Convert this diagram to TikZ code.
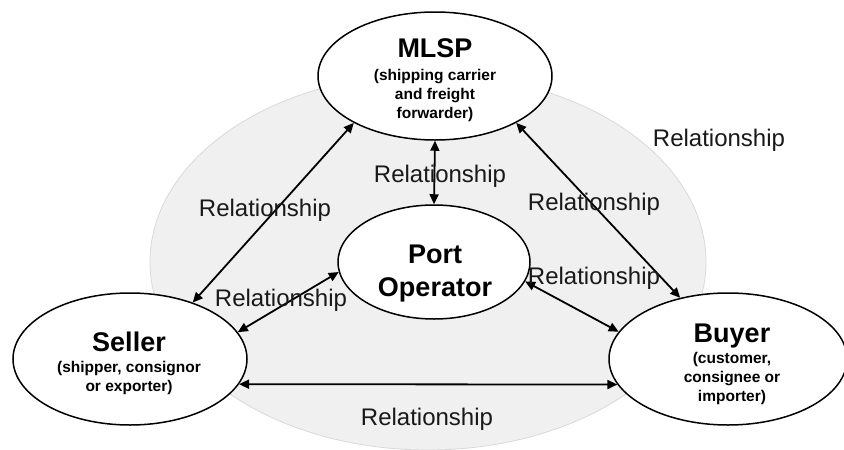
\documentclass[tikz,border=0pt]{standalone}
\usepackage{fontspec}
\setmainfont{Liberation Sans}
\usetikzlibrary{shapes.geometric,arrows.meta}
\begin{document}
\begin{tikzpicture}[x=1pt,y=-1pt,
  ell/.style={ellipse,draw=black,line width=1.5pt,fill=white,inner sep=0pt},
  rel/.style={font=\fontsize{24}{24}\selectfont,text=black!90,inner sep=0pt},
  ttl/.style={font=\bfseries\fontsize{27}{33}\selectfont,align=center,inner sep=0pt},
  subt/.style={font=\bfseries\fontsize{15.5}{19}\selectfont,align=center,inner sep=0pt},
  link/.style={{Triangle[length=10pt,width=9pt]}-{Triangle[length=10pt,width=9pt]},line width=1.8pt}
]
\useasboundingbox (0,0) rectangle (844,450);
% background
\node[ellipse,fill=black!6,draw=black!15,line width=0.8pt,minimum width=556pt,minimum height=376pt,inner sep=0pt] (bg) at (428,262) {};
% main ellipses
\node[ell,minimum width=234pt,minimum height=128pt] (mlsp) at (435,76) {};
\node[ell,minimum width=234pt,minimum height=132pt] (seller) at (130,359) {};
\node[ell,minimum width=238pt,minimum height=132pt] (buyer) at (728,359) {};
\node[ell,minimum width=192pt,minimum height=114pt] (port) at (434,262) {};
% texts in ellipses
\node[ttl] (mlspT) at (435,48) {MLSP};
\node[subt] (mlspS) at (435,95) {(shipping carrier\\and freight\\forwarder)};
\node[ttl] (sellerT) at (129,342) {Seller};
\node[subt] (sellerS) at (129,378) {(shipper, consignor\\or exporter)};
\node[ttl] (buyerT) at (732,336) {Buyer};
\node[subt] (buyerS) at (732,378) {(customer,\\consignee or\\importer)};
\node[ttl] (portT) at (435,274) {Port\\Operator};
% connectors
\draw[link] (seller.42.6) -- (mlsp.210.6);
\draw[link] (seller.14.7) -- (port.186.6);
\draw[link] (seller.-13.2) -- (buyer.193.5);
\draw[link] (mlsp.south) -- (port.north);
\draw[link] (mlsp.-30) -- (buyer.128);
\draw[link] (port.-12.3) -- (buyer.166);
% labels
\node[rel] (r1) at (719,140) {Relationship};
\node[rel] (r2) at (440,176) {Relationship};
\node[rel] (r3) at (265,210) {Relationship};
\node[rel] (r4) at (594,204) {Relationship};
\node[rel] (r5) at (281,300) {Relationship};
\node[rel] (r6) at (594,278) {Relationship};
\node[rel] (r7) at (427,419) {Relationship};
\end{tikzpicture}
\end{document}
